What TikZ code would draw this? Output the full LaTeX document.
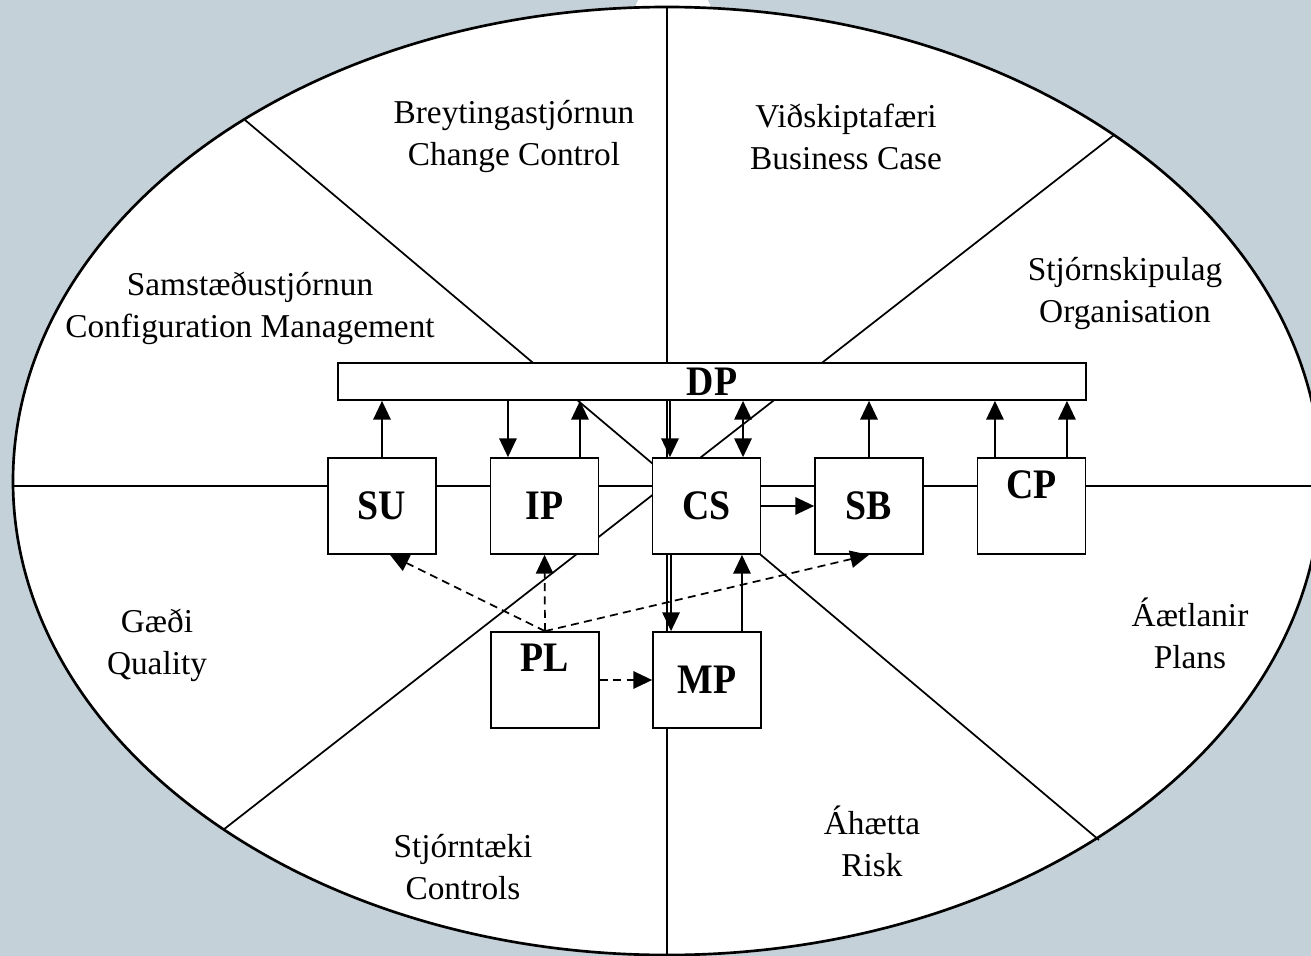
\documentclass[tikz,border=0pt]{standalone}
\usepackage{fontspec}
\setmainfont{Liberation Serif}
\newfontfamily\boxfont{Liberation Serif}[FakeStretch=0.9]
\usetikzlibrary{arrows.meta}
\definecolor{backgr}{RGB}{197,209,216}
\tikzset{
  blktxt/.style={font=\boxfont\bfseries\fontsize{31.5}{32}\selectfont},
  blk/.style={draw, fill=white, minimum width=81pt, minimum height=72pt, inner sep=0pt, blktxt},
  lbl/.style={align=center, font=\fontsize{25}{31.5}\selectfont},
  dsh/.style={->, dash pattern=on 6pt off 4pt}
}
\begin{document}
\begin{tikzpicture}[x=0.75pt, y=-0.75pt, line width=1.3pt, >={Triangle[length=14pt,width=13pt]}]
\clip (0,0) rectangle (1311,956);
\fill[backgr] (0,0) rectangle (1311,956);
\fill[white] (673,20) circle (40);
\draw[line width=2pt, fill=white] (667,481) ellipse [x radius=654, y radius=474];
% sectors
\draw (667,7) -- (667,955);
\draw (13,486) -- (1321,486);
\draw (245,120) -- (1099,840);
\draw (1114,135) -- (223,830);
% sector labels
\node[lbl] (chg) at (514,137) {Breytingastjórnun\\Change Control};
\node[lbl] (bus) at (846,137) {Viðskiptafæri\\Business Case};
\node[lbl] (cfg) at (250,308) {Samstæðustjórnun\\Configuration Management};
\node[lbl] (org) at (1125,294) {Stjórnskipulag\\Organisation};
\node[lbl] (qual) at (157,645) {Gæði\\Quality};
\node[lbl] (plan) at (1190,633) {Áætlanir\\Plans};
\node[lbl] (ctrl) at (463,867) {Stjórntæki\\Controls};
\node[lbl] (risk) at (872,841) {Áhætta\\Risk};
% processes
\node[blk, minimum width=561pt, minimum height=27.75pt] (DP) at (712,381.5) {DP};
\node[blk] (SU) at (382,506) {SU};
\node[blk] (IP) at (544.5,506) {IP};
\node[blk] (CS) at (706.5,506) {CS};
\node[blk] (SB) at (869,506) {SB};
\node[blk, label={[blktxt, yshift=15.75pt]center:CP}] (CP) at (1031.5,506) {};
\node[blk, label={[blktxt, yshift=17pt]center:PL}] (PL) at (545,680) {};
\node[blk] (MP) at (707,680) {MP};
\coordinate (ipa) at ([xshift=-27.4pt]IP.north);
\coordinate (ipb) at ([xshift=26.6pt]IP.north);
\coordinate (csa) at ([xshift=-27.4pt]CS.north);
\coordinate (csb) at ([xshift=27.4pt]CS.north);
\coordinate (cpa) at ([xshift=-27.4pt]CP.north);
\coordinate (cpb) at ([xshift=26.6pt]CP.north);
\coordinate (csc) at ([xshift=-26.6pt]CS.south);
\coordinate (csd) at ([xshift=26.6pt]CS.south);
% arrows
\draw[->] (SU.north) -- (SU.north |- DP.south);
\draw[->] (ipa |- DP.south) -- (ipa);
\draw[->] (ipb) -- (ipb |- DP.south);
\draw[->] (csa |- DP.south) -- (csa);
\draw[<->] (csb) -- (csb |- DP.south);
\draw[->] (SB.north) -- (SB.north |- DP.south);
\draw[->] (cpa) -- (cpa |- DP.south);
\draw[->] (cpb) -- (cpb |- DP.south);
\draw[->] (CS.east) -- (SB.west);
\draw[->] (csc) -- (csc |- MP.north);
\draw[->] (csd |- MP.north) -- (csd);
\draw[dsh] (PL.north) -- (IP.south);
\draw[dsh] (PL.north) -- ([xshift=6pt]SU.south);
\draw[dsh] (PL.north) -- (SB.south);
\draw[dsh] (PL.east) -- (MP.west);
\end{tikzpicture}
\end{document}
